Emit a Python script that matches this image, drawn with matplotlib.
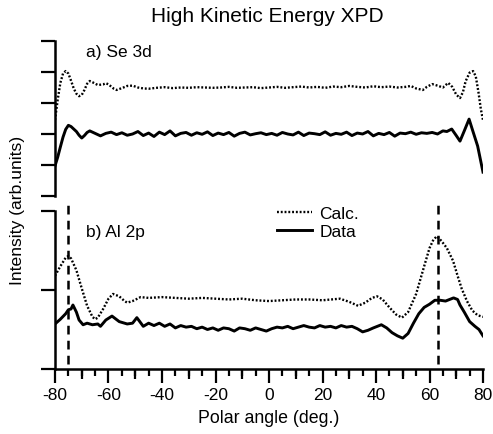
#!/usr/bin/env python3
"""
High kinetic energy XPD polar scans, Se 3d and Al 2p.
"""
import matplotlib
matplotlib.use("Agg")
import matplotlib.pyplot as plt
from matplotlib.ticker import MultipleLocator

# a) Se 3d, calculation
se_calc_x = [-80, -79, -78, -77, -76, -75, -74, -73, -72, -71, -70, -69, -68, -67,
             -66, -64, -62, -61, -60, -58, -57, -55, -53, -51, -49, -47, -45, -42,
             -39, -36, -33, -30, -27, -24, -21, -18, -15, -12, -9, -6, -3, 0, 3, 6,
             9, 12, 15, 18, 21, 24, 27, 30, 33, 36, 39, 42, 45, 48, 51, 53, 55, 57.5,
             59, 61, 63, 65, 67, 68.5, 70, 71.4, 72.5, 73.5, 75, 76.3, 77.3, 78.3,
             79.2, 80]
se_calc_y = [2.45, 3.10, 3.65, 3.95, 4.03, 3.95, 3.72, 3.47, 3.30, 3.22, 3.26, 3.42,
             3.62, 3.71, 3.67, 3.58, 3.60, 3.64, 3.60, 3.46, 3.42, 3.48, 3.55, 3.56,
             3.50, 3.47, 3.46, 3.49, 3.51, 3.48, 3.50, 3.49, 3.51, 3.50, 3.49, 3.50,
             3.52, 3.49, 3.50, 3.51, 3.48, 3.50, 3.52, 3.49, 3.51, 3.53, 3.50, 3.52,
             3.49, 3.53, 3.51, 3.55, 3.52, 3.50, 3.54, 3.51, 3.53, 3.50, 3.52, 3.55,
             3.47, 3.42, 3.52, 3.61, 3.56, 3.50, 3.65, 3.52, 3.27, 3.16, 3.35, 3.70,
             3.98, 4.03, 3.86, 3.35, 2.80, 2.45]

# a) Se 3d, data
se_data_x = [-80, -79, -78, -77, -76, -75, -74, -73, -72, -71, -70, -69, -68, -67,
             -65, -63, -61, -59, -57, -55, -53, -51, -49, -47, -45, -43, -41, -39,
             -37, -35, -33, -31, -29, -27, -25, -23, -21, -19, -17, -15, -13, -11,
             -9, -7, -5, -3, -1, 1, 3, 5, 7, 9, 11, 13, 15, 17, 19, 21, 23, 25, 27,
             29, 31, 33, 35, 37, 39, 41, 43, 45, 47, 49, 51, 53, 55, 57, 59, 61, 63,
             65, 66.5, 68.3, 70, 71.4, 73, 74.8, 76, 78, 80]
se_data_y = [0.97, 1.25, 1.58, 1.90, 2.15, 2.28, 2.24, 2.16, 2.08, 1.96, 1.87, 1.95,
             2.05, 2.10, 2.02, 1.94, 2.02, 2.06, 1.98, 2.04, 1.96, 2.00, 2.08, 1.95,
             2.03, 1.92, 2.06, 1.98, 2.10, 1.94, 2.02, 2.05, 1.96, 2.04, 1.99, 2.07,
             1.95, 2.03, 1.98, 2.05, 1.93, 2.02, 2.06, 1.97, 2.01, 2.04, 1.98, 2.02,
             1.96, 2.05, 2.00, 1.97, 2.06, 1.95, 2.03, 2.01, 1.98, 2.07, 1.96, 2.02,
             1.99, 2.06, 1.95, 2.03, 2.00, 2.08, 1.94, 2.02, 1.98, 2.05, 1.93, 2.03,
             2.01, 2.06, 1.99, 2.04, 2.02, 2.05, 2.00, 2.10, 2.08, 2.16, 1.95, 1.77,
             2.10, 2.48, 2.15, 1.61, 0.77]

# b) Al 2p, calculation
al_calc_x = [-80, -78, -76, -75, -74, -72, -70, -68, -66, -65, -64, -62, -60, -58.3,
             -56, -54, -53, -51, -48, -45, -40, -35, -30, -25, -20, -15, -10, -5, 0,
             5, 10, 15, 20, 26.5, 30, 33.3, 36, 38.5, 40.4, 42.5, 45, 47.5, 49.7, 52,
             55, 58, 60, 61.5, 62.8, 64.5, 66.5, 68.8, 70.5, 72, 74, 76, 78, 80]
al_calc_y = [1.18, 1.30, 1.41, 1.43, 1.40, 1.25, 1.02, 0.80, 0.66, 0.63, 0.65, 0.76,
             0.89, 0.95, 0.92, 0.86, 0.84, 0.86, 0.91, 0.90, 0.91, 0.90, 0.89, 0.90,
             0.89, 0.88, 0.89, 0.87, 0.86, 0.87, 0.88, 0.88, 0.87, 0.89, 0.85, 0.80,
             0.84, 0.90, 0.92, 0.88, 0.78, 0.69, 0.65, 0.72, 0.95, 1.30, 1.53, 1.64,
             1.68, 1.62, 1.53, 1.37, 1.18, 1.02, 0.86, 0.74, 0.68, 0.66]

# b) Al 2p, data
al_data_x = [-80, -78, -76, -75, -74, -73.3, -72, -71, -69.5, -68, -66, -64, -63, -61,
             -58.7, -56, -53, -51, -49.4, -47, -45, -43, -41, -39, -37, -35, -33, -31,
             -29, -27, -25, -23, -21, -19, -17, -15, -13, -11, -9, -7, -5, -3, -1, 1,
             3, 5, 7, 9, 11, 13, 15, 17, 19, 21, 23, 25, 27, 29, 31, 33, 35, 37, 39,
             42, 44, 46, 48, 50, 52, 54, 56, 58, 60, 62, 64, 66, 67.5, 69, 70.5,
             71.4, 73, 75, 77, 78.5, 80]
al_data_y = [0.57, 0.63, 0.70, 0.75, 0.76, 0.81, 0.72, 0.62, 0.56, 0.58, 0.56, 0.57,
             0.54, 0.62, 0.67, 0.60, 0.57, 0.58, 0.65, 0.54, 0.58, 0.55, 0.58, 0.54,
             0.57, 0.52, 0.55, 0.53, 0.54, 0.51, 0.53, 0.50, 0.52, 0.49, 0.52, 0.51,
             0.48, 0.52, 0.51, 0.49, 0.52, 0.50, 0.48, 0.51, 0.53, 0.52, 0.54, 0.51,
             0.53, 0.55, 0.53, 0.52, 0.55, 0.53, 0.54, 0.52, 0.55, 0.53, 0.54, 0.51,
             0.47, 0.49, 0.52, 0.56, 0.52, 0.46, 0.42, 0.39, 0.45, 0.58, 0.70, 0.78,
             0.82, 0.87, 0.87, 0.86, 0.88, 0.90, 0.88, 0.81, 0.72, 0.60, 0.54, 0.50,
             0.42]

peak_angles = [-75, 63]

xticks_major = list(range(-80, 81, 20))


def style_left(ax, ymax):
    for side in ("top", "right", "bottom"):
        ax.spines[side].set_visible(False)
    ax.spines["left"].set_linewidth(1.8)
    ax.set_ylim(0, ymax)
    ax.set_yticks(range(ymax + 1))
    ax.set_yticklabels([])
    ax.tick_params(axis="y", direction="out", length=10, width=1.6)
    ax.set_xlim(-80, 80)


def main() -> None:
    plt.rcParams["font.family"] = ["Liberation Sans", "DejaVu Sans"]
    plt.rcParams["axes.unicode_minus"] = False
    fig = plt.figure(figsize=(4.93, 4.35), dpi=100)
    W, H = 493, 435
    ax1 = fig.add_axes([55 / W, 1 - 197 / H, 428 / W, 155 / H])
    ax2 = fig.add_axes([55 / W, 1 - 370 / H, 428 / W, 158 / H])

    calc_style = {"color": "black", "lw": 1.7, "ls": (0, (0.8, 0.8))}
    data_style = {"color": "black", "lw": 2.1}

    # panel a
    ax1.plot(se_calc_x, se_calc_y, **calc_style)
    ax1.plot(se_data_x, se_data_y, **data_style)
    style_left(ax1, 5)
    ax1.set_xticks([])
    ax1.text(31 / 428, 0.935, "a) Se 3d", transform=ax1.transAxes,
             fontsize=12.5, va="center", ha="left")

    # panel b
    ax2.plot(al_calc_x, al_calc_y, label="Calc.", **calc_style)
    ax2.plot(al_data_x, al_data_y, label="Data", **data_style)
    style_left(ax2, 2)
    ax2.spines["bottom"].set_visible(True)
    ax2.spines["bottom"].set_linewidth(1.8)
    for a in peak_angles:
        ax2.axvline(a, ymin=0.03, ymax=1.045, color="black", lw=1.8,
                    ls=(0, (3.5, 2.5)), clip_on=False)
    ax2.text(31 / 428, 0.873, "b) Al 2p", transform=ax2.transAxes,
             fontsize=12.5, va="center", ha="left")

    ax2.set_xticks(xticks_major)
    ax2.xaxis.set_minor_locator(MultipleLocator(5))
    ax2.tick_params(axis="x", which="major", direction="out", length=10,
                    width=1.6, labelsize=12.5, pad=3)
    ax2.tick_params(axis="x", which="minor", direction="out", length=5, width=1.6)
    sec = ax2.secondary_xaxis("bottom")
    sec.spines["bottom"].set_visible(False)
    sec.set_xticks(list(range(-70, 80, 20)))
    sec.set_xticklabels([])
    sec.tick_params(axis="x", direction="out", length=7.5, width=1.6)
    ax2.set_xlabel("Polar angle (deg.)", fontsize=12.8, labelpad=5)

    ax2.legend(loc="upper left", bbox_to_anchor=(215 / 428, 1.075),
               frameon=False, fontsize=12.5, handlelength=2.0,
               handletextpad=0.45, labelspacing=0.15, borderaxespad=0)

    fig.text(267 / W, 1 - 17 / H, "High Kinetic Energy XPD", fontsize=15,
             ha="center", va="center")
    fig.text(18 / W, 1 - 210 / H, "Intensity (arb.units)", fontsize=12.6,
             rotation=90, ha="center", va="center")

    fig.savefig("out.png", dpi=100)
    plt.close(fig)


if __name__ == "__main__":
    main()
